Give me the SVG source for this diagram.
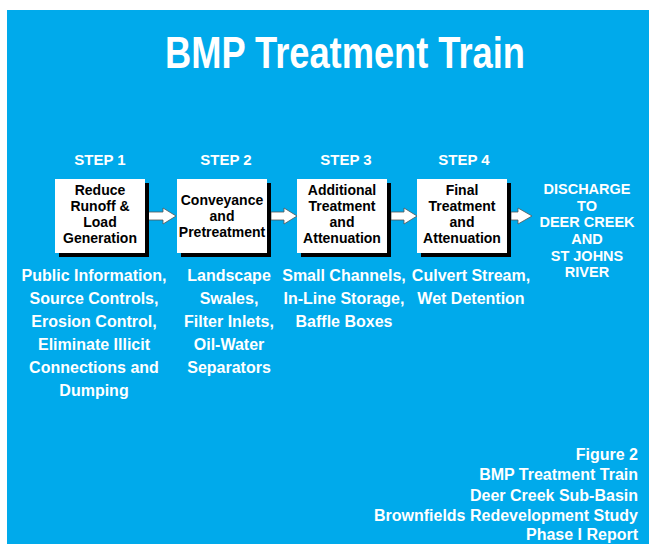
<svg xmlns="http://www.w3.org/2000/svg" width="649" height="544" viewBox="0 0 649 544">
<style>
text{font-family:"Liberation Sans",Arial,sans-serif;font-weight:bold;}
.w{fill:#ffffff;}
.k{fill:#000000;}
.title{font-size:44px;}
.step{font-size:15px;text-anchor:middle;}
.box{font-size:14px;text-anchor:middle;}
.dis{font-size:14.5px;text-anchor:middle;}
.desc{font-size:16px;text-anchor:middle;}
.cap{font-size:16px;text-anchor:end;}
.shadow{fill:#000000;}
.card{fill:#ffffff;}
.arrow{fill:#ffffff;stroke:#555555;stroke-width:0.8;}
</style>
<rect x="7" y="10" width="642" height="534" fill="#00AAEB"/>
<text class="w title" x="345" y="68" text-anchor="middle" textLength="360" lengthAdjust="spacingAndGlyphs">BMP Treatment Train</text>
<g id="steps">
<text class="w step" x="100" y="165">STEP 1</text>
<text class="w step" x="226" y="165">STEP 2</text>
<text class="w step" x="346" y="165">STEP 3</text>
<text class="w step" x="464" y="165">STEP 4</text>
</g>
<g id="connectors">
<polygon class="arrow" points="148,212 163,212 163,208 176,216 163,224 163,220 148,220"/>
<polygon class="arrow" points="271,212 284,212 284,208 297,216 284,224 284,220 271,220"/>
<polygon class="arrow" points="391,212 404,212 404,208 417,216 404,224 404,220 391,220"/>
<polygon class="arrow" points="511,212 518,212 518,208 532,216 518,224 518,220 511,220"/>
</g>
<g id="box1">
<rect class="shadow" x="59" y="183" width="90" height="74"/>
<rect class="card" x="55" y="179" width="90" height="74"/>
<text class="k box" x="100" y="195">Reduce</text>
<text class="k box" x="100" y="211">Runoff &amp;</text>
<text class="k box" x="100" y="227">Load</text>
<text class="k box" x="100" y="243">Generation</text>
</g>
<g id="box2">
<rect class="shadow" x="181" y="183" width="90" height="74"/>
<rect class="card" x="177" y="179" width="90" height="74"/>
<text class="k box" x="222" y="205">Conveyance</text>
<text class="k box" x="222" y="221">and</text>
<text class="k box" x="222" y="237">Pretreatment</text>
</g>
<g id="box3">
<rect class="shadow" x="301" y="183" width="90" height="74"/>
<rect class="card" x="297" y="179" width="90" height="74"/>
<text class="k box" x="342" y="195">Additional</text>
<text class="k box" x="342" y="211">Treatment</text>
<text class="k box" x="342" y="227">and</text>
<text class="k box" x="342" y="243">Attenuation</text>
</g>
<g id="box4">
<rect class="shadow" x="421" y="183" width="90" height="74"/>
<rect class="card" x="417" y="179" width="90" height="74"/>
<text class="k box" x="462" y="195">Final</text>
<text class="k box" x="462" y="211">Treatment</text>
<text class="k box" x="462" y="227">and</text>
<text class="k box" x="462" y="243">Attenuation</text>
</g>
<g id="discharge">
<text class="w dis" x="587" y="194">DISCHARGE</text>
<text class="w dis" x="587" y="211">TO</text>
<text class="w dis" x="587" y="227">DEER CREEK</text>
<text class="w dis" x="587" y="244">AND</text>
<text class="w dis" x="587" y="261">ST JOHNS</text>
<text class="w dis" x="587" y="277">RIVER</text>
</g>
<g id="desc1">
<text class="w desc" x="94" y="281">Public Information,</text>
<text class="w desc" x="94" y="304">Source Controls,</text>
<text class="w desc" x="94" y="327">Erosion Control,</text>
<text class="w desc" x="94" y="350">Eliminate Illicit</text>
<text class="w desc" x="94" y="373">Connections and</text>
<text class="w desc" x="94" y="396">Dumping</text>
</g>
<g id="desc2">
<text class="w desc" x="229" y="281">Landscape</text>
<text class="w desc" x="229" y="304">Swales,</text>
<text class="w desc" x="229" y="327">Filter Inlets,</text>
<text class="w desc" x="229" y="350">Oil-Water</text>
<text class="w desc" x="229" y="373">Separators</text>
</g>
<g id="desc3">
<text class="w desc" x="344" y="281">Small Channels,</text>
<text class="w desc" x="344" y="304">In-Line Storage,</text>
<text class="w desc" x="344" y="327">Baffle Boxes</text>
</g>
<g id="desc4">
<text class="w desc" x="471" y="281">Culvert Stream,</text>
<text class="w desc" x="471" y="304">Wet Detention</text>
</g>
<g id="caption">
<text class="w cap" x="638" y="460">Figure 2</text>
<text class="w cap" x="638" y="480">BMP Treatment Train</text>
<text class="w cap" x="638" y="501">Deer Creek Sub-Basin</text>
<text class="w cap" x="638" y="521">Brownfields Redevelopment Study</text>
<text class="w cap" x="638" y="540">Phase I Report</text>
</g>
</svg>
